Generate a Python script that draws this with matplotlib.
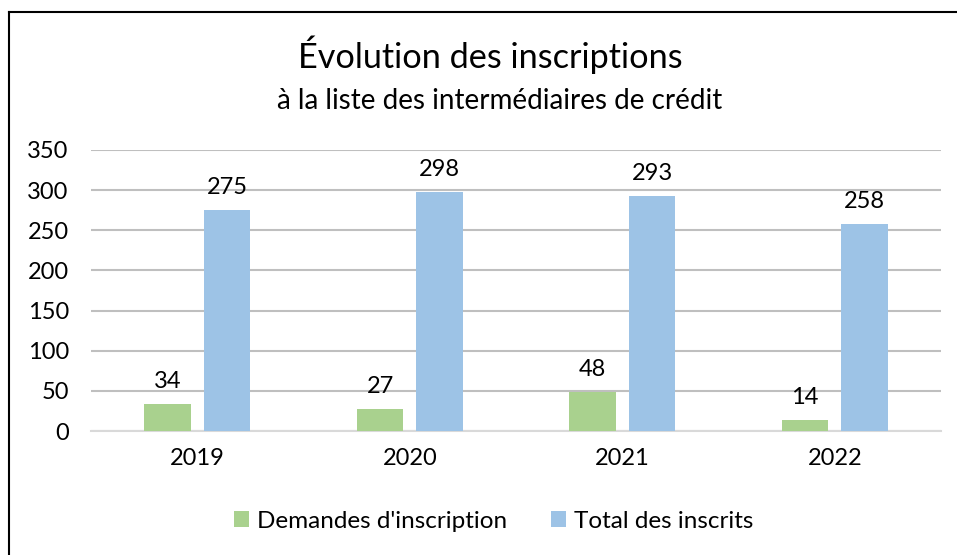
import matplotlib.pyplot as plt
import numpy as np
from matplotlib.lines import Line2D

plt.rcParams['font.family'] = ['Lato', 'DejaVu Sans']

years = ['2019', '2020', '2021', '2022']
demandes = [34, 27, 48, 14]
inscrits = [275, 298, 293, 258]

green = '#A9D18E'
blue = '#9DC3E6'

fig = plt.figure(figsize=(9.57, 5.55), dpi=100)
ax = fig.add_axes([91/957, 1 - 431/555, 850/957, 281/555])

x = np.arange(len(years))
w = 0.22
b1 = ax.bar(x - 0.14, demandes, w, color=green, label="Demandes d'inscription", zorder=3)
b2 = ax.bar(x + 0.14, inscrits, w, color=blue, label='Total des inscrits', zorder=3)

# value labels above the bars
for bars in (b1, b2):
    for r in bars:
        ax.text(r.get_x() + r.get_width()/2, r.get_height() + 15, str(int(r.get_height())),
                ha='center', va='bottom', fontsize=17)

ax.set_xlim(-0.5, 3.5)
ax.set_ylim(0, 350)
ax.set_yticks(range(0, 351, 50))
ax.set_xticks(x)
ax.set_xticklabels(years)
ax.tick_params(axis='both', length=0, labelsize=17)
ax.tick_params(axis='x', pad=12)
ax.tick_params(axis='y', pad=16)
ax.yaxis.grid(True, color='#BFBFBF', linewidth=1.5, zorder=0)
for s in ['top', 'right', 'left']:
    ax.spines[s].set_visible(False)
ax.spines['bottom'].set_color('#D9D9D9')
ax.spines['bottom'].set_linewidth(1.5)

fig.text(490/957, 1 - 55/555, 'Évolution des inscriptions', ha='center', va='center', fontsize=24.7)
fig.text(500/957, 1 - 101/555, 'à la liste des intermédiaires de crédit', ha='center', va='center', fontsize=20)

fig.legend(handles=[b1, b2], loc='center', bbox_to_anchor=(494/957, 1 - 521/555), ncol=2,
           frameon=False, fontsize=17.5, handlelength=0.6, handleheight=0.6,
           handletextpad=0.35, columnspacing=1.8)

# chart border (only top and left edges are visible in the crop)
fig.add_artist(Line2D([9/957, 9/957], [0, 1 - 12/555], transform=fig.transFigure, color='black', linewidth=1.5))
fig.add_artist(Line2D([9/957, 1], [1 - 12/555, 1 - 12/555], transform=fig.transFigure, color='black', linewidth=1.5))

fig.savefig('out.png', dpi=100)
